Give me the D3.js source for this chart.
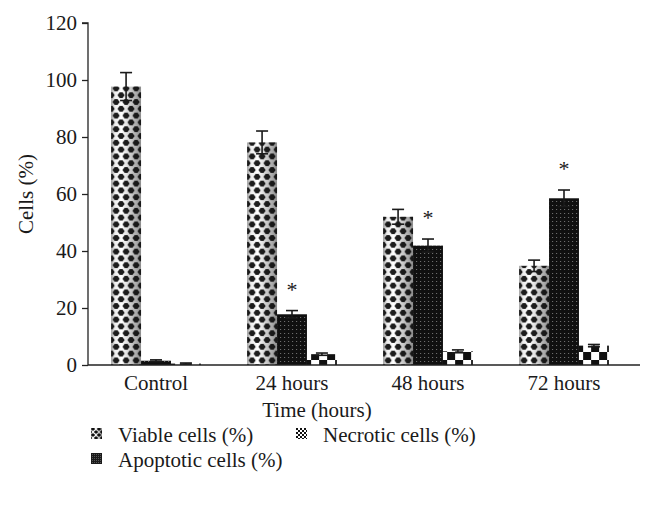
<!DOCTYPE html>
<html>
<head>
<meta charset="utf-8">
<script src="https://cdn.jsdelivr.net/npm/d3@7"></script>
<style>
  html, body { margin: 0; padding: 0; background: #fff; }
  svg { display: block; }
  text { font-family: "Liberation Serif", "Times New Roman", serif; fill: #1a1a1a; }
</style>
</head>
<body>
<svg id="chart" width="646" height="514"></svg>
<script>
const categories = ["Control", "24 hours", "48 hours", "72 hours"];
const seriesNames = ["Viable cells (%)", "Apoptotic cells (%)", "Necrotic cells (%)"];
const viable = [97.7, 78.1, 52.0, 34.8];
const viableErr = [4.9, 4.0, 2.6, 2.0];
const apoptotic = [1.5, 17.8, 41.9, 58.5];
const apoptoticErr = [0.3, 1.3, 2.3, 2.9];
const necrotic = [0.5, 3.8, 4.8, 6.8];
const necroticErr = [0.2, 0.4, 0.5, 0.4];
const significant = [false, true, true, true]; // asterisk over apoptotic bar
const yTicks = [0, 20, 40, 60, 80, 100, 120];

const FS = "21px";
const svg = d3.select("#chart");
const defs = svg.append("defs");

// Viable: shaded cylinder gradient + black rounded diamonds
const grad = defs.append("linearGradient").attr("id", "viableGrad")
  .attr("x1", "0").attr("x2", "1").attr("y1", "0").attr("y2", "0");
[[0, "#9a9a9a"], [0.12, "#ececec"], [0.35, "#ffffff"], [0.65, "#cccccc"], [1, "#8e8e8e"]]
  .forEach(([o, c]) => grad.append("stop").attr("offset", o).attr("stop-color", c));

function diamondPattern(id, w, h, rx, ry, color) {
  const p = defs.append("pattern").attr("id", id).attr("patternUnits", "userSpaceOnUse")
    .attr("width", w).attr("height", h);
  [[0, 0], [w, 0], [w / 2, h / 2], [0, h], [w, h]].forEach(([cx, cy]) => {
    p.append("path")
      .attr("d", `M${cx - rx},${cy} L${cx - rx * 0.4},${cy - ry} L${cx + rx * 0.4},${cy - ry} L${cx + rx},${cy} L${cx + rx * 0.4},${cy + ry} L${cx - rx * 0.4},${cy + ry} Z`)
      .attr("fill", color);
  });
  return p;
}
diamondPattern("viablePat", 10, 13.6, 3.6, 2.9, "#111");
diamondPattern("viablePatSmall", 6, 6, 2.1, 1.6, "#111");

// Apoptotic: black with fine grey dots
const ap = defs.append("pattern").attr("id", "apopPat").attr("patternUnits", "userSpaceOnUse")
  .attr("width", 4).attr("height", 4);
ap.append("rect").attr("width", 4).attr("height", 4).attr("fill", "#101010");
ap.append("rect").attr("x", 1).attr("y", 1).attr("width", 1).attr("height", 1).attr("fill", "#7a7a7a");
const apS = defs.append("pattern").attr("id", "apopPatSmall").attr("patternUnits", "userSpaceOnUse")
  .attr("width", 2).attr("height", 2);
apS.append("rect").attr("width", 2).attr("height", 2).attr("fill", "#1a1a1a");
apS.append("rect").attr("width", 1).attr("height", 1).attr("fill", "#555");

// Necrotic: checkerboard
function checker(id, s) {
  const p = defs.append("pattern").attr("id", id).attr("patternUnits", "userSpaceOnUse")
    .attr("width", 2 * s).attr("height", 2 * s);
  p.append("rect").attr("width", 2 * s).attr("height", 2 * s).attr("fill", "#fff");
  p.append("rect").attr("width", s).attr("height", s).attr("fill", "#111");
  p.append("rect").attr("x", s).attr("y", s).attr("width", s).attr("height", s).attr("fill", "#111");
}
checker("necPat", 8);
checker("necPatSmall", 2);

// Scales
const x0 = d3.scaleBand().domain(categories).range([88, 632]).paddingInner(0.34).paddingOuter(0.17);
const x1 = d3.scaleBand().domain(seriesNames).range([0, x0.bandwidth()]);
const y = d3.scaleLinear().domain([0, 120]).range([365, 23]);

const values = [viable, apoptotic, necrotic];
const errs = [viableErr, apoptoticErr, necroticErr];

// Y axis
const yAxis = svg.append("g").attr("transform", `translate(88,0)`)
  .call(d3.axisLeft(y).tickValues(yTicks).tickSize(6).tickPadding(5).tickFormat(d3.format("d")));
yAxis.selectAll("text").style("font-size", FS).attr("fill", "#1a1a1a")
  .style("font-family", '"Liberation Serif", serif');
yAxis.selectAll("line").attr("stroke", "#222").attr("stroke-width", 1.3);
yAxis.select(".domain").attr("stroke", "#222").attr("stroke-width", 1.3).attr("d", `M-6,${y(120)}H0V${y(0)}`);

// Bars
const groups = svg.append("g").selectAll("g").data(categories).join("g")
  .attr("transform", d => `translate(${x0(d)},0)`);

seriesNames.forEach((s, si) => {
  groups.each(function (cat, ci) {
    const g = d3.select(this);
    const v = values[si][ci];
    const bx = x1(s), bw = x1.bandwidth();
    if (si === 0) {
      g.append("rect").attr("x", bx).attr("y", y(v)).attr("width", bw).attr("height", y(0) - y(v))
        .attr("fill", "url(#viableGrad)");
      g.append("rect").attr("x", bx).attr("y", y(v)).attr("width", bw).attr("height", y(0) - y(v))
        .attr("fill", "url(#viablePat)").attr("opacity", 0.95);
    } else {
      g.append("rect").attr("x", bx).attr("y", y(v)).attr("width", bw).attr("height", y(0) - y(v))
        .attr("fill", si === 1 ? "url(#apopPat)" : "url(#necPat)");
    }
    // error bar
    const e = errs[si][ci];
    const cx = bx + bw / 2;
    const cap = 6;
    const eb = g.append("g").attr("stroke", "#1a1a1a").attr("stroke-width", 1.6);
    eb.append("line").attr("x1", cx).attr("x2", cx).attr("y1", y(v - e)).attr("y2", y(v + e));
    eb.append("line").attr("x1", cx - cap).attr("x2", cx + cap).attr("y1", y(v + e)).attr("y2", y(v + e));
    eb.append("line").attr("x1", cx - cap).attr("x2", cx + cap).attr("y1", y(v - e)).attr("y2", y(v - e));
    if (si === 1 && significant[ci]) {
      g.append("text").attr("x", cx).attr("y", y(v + e) - 14).attr("text-anchor", "middle")
        .style("font-size", "22px").attr("fill", "#111").text("*");
    }
  });
});

// X axis line (no ticks)
svg.append("line").attr("x1", 88).attr("x2", 640).attr("y1", y(0)).attr("y2", y(0))
  .attr("stroke", "#222").attr("stroke-width", 1.3);
const xAxis = svg.append("g").attr("transform", `translate(0,${y(0)})`)
  .call(d3.axisBottom(x0).tickSize(0).tickPadding(10));
xAxis.select(".domain").remove();
xAxis.selectAll("text").style("font-size", FS).attr("fill", "#1a1a1a")
  .style("font-family", '"Liberation Serif", serif');

// Axis titles
svg.append("text").attr("transform", `translate(33,${(y(0) + y(120)) / 2}) rotate(-90)`)
  .attr("text-anchor", "middle").style("font-size", FS).text("Cells (%)");
svg.append("text").attr("x", 317).attr("y", 417).attr("text-anchor", "middle")
  .style("font-size", FS).text("Time (hours)");

// Legend
const legend = [
  { name: seriesNames[0], x: 91, y: 442, fill: ["url(#viableGrad)", "url(#viablePatSmall)"] },
  { name: seriesNames[2], x: 296, y: 442, fill: ["url(#necPatSmall)"] },
  { name: seriesNames[1], x: 91, y: 467, fill: ["url(#apopPatSmall)"] }
];
legend.forEach(l => {
  l.fill.forEach(f => svg.append("rect").attr("x", l.x).attr("y", l.y - 14).attr("width", 11).attr("height", 11).attr("fill", f));
  svg.append("text").attr("x", l.x + 27).attr("y", l.y).style("font-size", FS).text(l.name);
});
</script>
</body>
</html>
